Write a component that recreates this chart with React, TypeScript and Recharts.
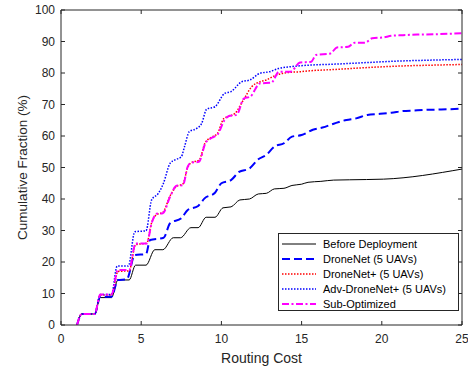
import { LineChart, Line, XAxis, YAxis, Label } from "recharts";

const xTicks = [0, 5, 10, 15, 20, 25];
const yTicks = [0, 10, 20, 30, 40, 50, 60, 70, 80, 90, 100];

const seriesNames = [
  "Before Deployment",
  "DroneNet (5 UAVs)",
  "DroneNet+ (5 UAVs)",
  "Adv-DroneNet+ (5 UAVs)",
  "Sub-Optimized",
];

// Before Deployment
const beforeX = [1.0, 1.3, 2.1, 2.45, 3.15, 3.55, 4.25, 4.65, 5.3, 5.85, 6.35, 7.0, 7.45, 8.1, 8.55, 9.05, 9.6, 10.1, 10.6, 11.15, 11.75, 12.3, 12.8, 13.3, 13.9, 14.4, 15.0, 15.4, 16.2, 17.0, 18.0, 20.1, 25];
const beforeY = [0, 3.5, 3.5, 8.7, 8.7, 14.3, 14.3, 19.0, 19.0, 23.9, 23.9, 27.7, 27.7, 30.9, 30.9, 34.2, 34.2, 37.2, 37.5, 39.7, 40.0, 41.6, 41.8, 43.2, 43.4, 44.3, 44.7, 45.3, 45.6, 46.0, 46.1, 46.3, 49.5];

// DroneNet (5 UAVs)
const droneX = [1.0, 1.3, 2.1, 2.45, 3.15, 3.55, 4.1, 4.6, 5.3, 5.55, 6.4, 6.8, 7.5, 7.9, 8.55, 8.95, 9.6, 10.0, 10.6, 11.1, 11.75, 12.3, 12.8, 13.3, 13.9, 14.4, 15.0, 15.7, 16.3, 17.0, 17.8, 18.4, 19.1, 19.8, 20.6, 21.3, 22.0, 22.8, 23.7, 25];
const droneY = [0, 3.5, 3.5, 9.0, 9.0, 14.3, 14.5, 22.2, 22.5, 27.0, 27.7, 32.3, 33.9, 36.5, 37.8, 40.2, 42.0, 45.0, 46.0, 48.6, 49.7, 52.6, 54.0, 56.6, 57.7, 59.8, 60.3, 62.0, 62.7, 63.9, 65.1, 65.6, 66.7, 67.0, 67.4, 67.9, 68.1, 68.3, 68.4, 68.7];

// DroneNet+ (5 UAVs)
const plusX = [1.0, 1.3, 2.1, 2.45, 3.15, 3.55, 4.25, 4.65, 5.35, 5.65, 5.95, 6.35, 6.8, 7.2, 7.6, 7.9, 8.1, 8.6, 9.0, 9.35, 9.75, 10.15, 10.5, 10.85, 11.37, 11.9, 12.4, 12.8, 13.45, 14.1, 14.9, 15.5, 17.0, 19.0, 21.1, 23.2, 25];
const plusY = [0, 3.5, 3.5, 9.5, 9.5, 17.0, 17.2, 25.5, 26.0, 32.5, 35.0, 35.8, 41.0, 44.0, 44.8, 50.0, 51.5, 52.3, 58.0, 59.5, 60.8, 65.5, 66.3, 67.2, 71.4, 75.7, 77.2, 77.8, 79.4, 80.1, 80.4, 80.7, 81.1, 81.7, 82.2, 82.5, 82.7];

// Adv-DroneNet+ (5 UAVs)
const advX = [1.0, 1.3, 2.1, 2.45, 3.15, 3.5, 4.2, 4.6, 5.3, 5.65, 6.07, 6.38, 6.8, 7.1, 7.5, 7.7, 8.0, 8.46, 8.77, 9.08, 9.6, 10.2, 10.6, 11.26, 11.78, 12.4, 13.0, 13.55, 14.3, 15.5, 17.0, 19.0, 21.1, 23.2, 25];
const advY = [0, 3.5, 3.5, 9.7, 9.7, 18.7, 18.7, 29.6, 29.9, 39.7, 41.8, 44.9, 51.3, 52.4, 53.4, 56.6, 61.4, 62.4, 64.0, 68.5, 69.3, 73.5, 74.1, 77.2, 77.8, 79.9, 80.4, 81.4, 82.0, 82.5, 82.8, 83.3, 83.8, 84.1, 84.3];

// Sub-Optimized
const subX = [1.0, 1.3, 2.1, 2.45, 3.15, 3.55, 4.25, 4.65, 5.35, 5.65, 5.95, 6.35, 6.8, 7.2, 7.6, 7.9, 8.1, 8.6, 9.0, 9.35, 9.75, 10.2, 10.5, 10.95, 11.4, 11.8, 12.4, 13.1, 13.6, 14.3, 14.9, 15.6, 15.9, 16.8, 17.2, 17.9, 18.3, 18.95, 19.4, 20.1, 20.6, 21.3, 22.2, 23.2, 25];
const subY = [0, 3.5, 3.5, 9.7, 9.7, 17.5, 17.5, 25.9, 25.9, 32.3, 35.3, 35.5, 40.7, 44.2, 44.4, 50.3, 51.5, 51.8, 57.7, 59.3, 60.4, 65.1, 66.4, 66.7, 71.9, 72.5, 76.7, 76.9, 80.4, 80.4, 83.3, 83.6, 85.7, 86.2, 88.1, 88.3, 89.6, 89.6, 91.0, 91.3, 91.8, 92.0, 92.2, 92.3, 92.6];

const zip = (xs: number[], ys: number[]) => xs.map((x, i) => ({ x, y: ys[i] }));

const series = [
  { name: seriesNames[0], data: zip(beforeX, beforeY), color: "#000000", width: 1, dash: undefined as string | undefined },
  { name: seriesNames[1], data: zip(droneX, droneY), color: "#0000ff", width: 2, dash: "8 4" },
  { name: seriesNames[2], data: zip(plusX, plusY), color: "#ff0000", width: 1.5, dash: "1.5 1.5" },
  { name: seriesNames[3], data: zip(advX, advY), color: "#0000ff", width: 1.5, dash: "1.5 1.5" },
  { name: seriesNames[4], data: zip(subX, subY), color: "#ff00ff", width: 2, dash: "7 2.5 2 2.5" },
];

const FONT = "'Liberation Sans', Arial, Helvetica, sans-serif";
const AXIS = "#262626";

// box-side axes only need their inward tick marks, no labels
const NoLabel = () => <g />;

function LegendBox() {
  return (
    <div
      style={{
        position: "absolute",
        left: 278,
        top: 233,
        width: 181,
        height: 78,
        border: `1px solid ${AXIS}`,
        background: "#fff",
        fontFamily: FONT,
        fontSize: 11,
        color: "#000",
        paddingTop: 2,
        boxSizing: "border-box",
      }}
    >
      {series.map((s) => (
        <div key={s.name} style={{ display: "flex", alignItems: "center", height: 15.2 }}>
          <svg width={40} height={10} style={{ marginLeft: 2, marginRight: 2 }}>
            <line x1={1} y1={5} x2={35} y2={5} stroke={s.color} strokeWidth={s.width} strokeDasharray={s.dash} />
          </svg>
          <span>{s.name}</span>
        </div>
      ))}
    </div>
  );
}

export default function App() {
  return (
    <div style={{ position: "absolute", left: 0, top: 0, width: 468, height: 371, background: "#fff" }}>
      <LineChart width={468} height={371} margin={{ top: 10, right: 6, bottom: 16, left: 11 }}>
        <XAxis
          xAxisId="bottom"
          type="number"
          dataKey="x"
          domain={[0, 25]}
          ticks={xTicks}
          allowDataOverflow
          height={30}
          tickSize={-4}
          tickMargin={13}
          stroke={AXIS}
          tick={{ fill: AXIS, fontSize: 12, fontFamily: FONT }}
        >
          <Label value="Routing Cost" position="insideBottom" offset={-8} style={{ fill: AXIS, fontSize: 14, fontFamily: FONT }} />
        </XAxis>
        <XAxis
          xAxisId="top"
          orientation="top"
          type="number"
          dataKey="x"
          domain={[0, 25]}
          ticks={xTicks}
          allowDataOverflow
          mirror
          tick={NoLabel}
          tickSize={4}
          stroke={AXIS}
        />
        <YAxis
          yAxisId="left"
          type="number"
          dataKey="y"
          domain={[0, 100]}
          ticks={yTicks}
          allowDataOverflow
          width={50}
          tickSize={-4}
          tickMargin={10}
          stroke={AXIS}
          tick={{ fill: AXIS, fontSize: 12, fontFamily: FONT }}
        >
          <Label
            value="Cumulative Fraction (%)"
            angle={-90}
            position="insideLeft"
            offset={11}
            style={{ fill: AXIS, fontSize: 13.5, fontFamily: FONT, textAnchor: "middle" }}
          />
        </YAxis>
        <YAxis
          yAxisId="right"
          orientation="right"
          type="number"
          dataKey="y"
          domain={[0, 100]}
          ticks={yTicks}
          allowDataOverflow
          mirror
          tick={NoLabel}
          tickSize={4}
          stroke={AXIS}
        />
        {series.map((s) => (
          <Line
            key={s.name}
            xAxisId="bottom"
            yAxisId="left"
            data={s.data}
            dataKey="y"
            name={s.name}
            type="monotone"
            stroke={s.color}
            strokeWidth={s.width}
            strokeDasharray={s.dash}
            dot={false}
            activeDot={false}
            isAnimationActive={false}
          />
        ))}
      </LineChart>
      <LegendBox />
    </div>
  );
}
